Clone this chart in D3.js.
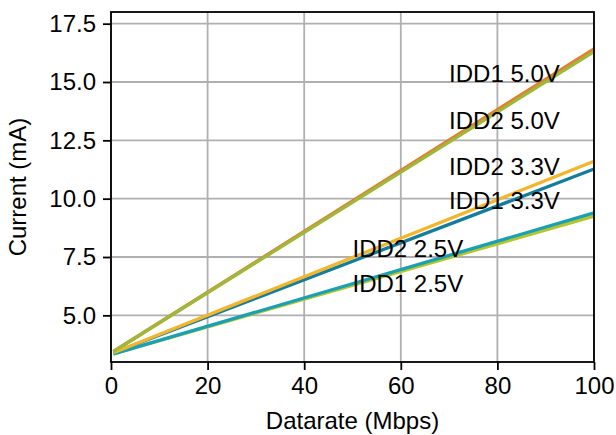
<!DOCTYPE html>
<html>
<head>
<meta charset="utf-8">
<script src="https://cdn.jsdelivr.net/npm/d3@7"></script>
<style>
    body { margin: 0; background: #fff; }
    text { font-family: "Liberation Sans", Arial, sans-serif; }
</style>
</head>
<body>
<div id="chart"></div>
<script>
// values
let datarate = [0.5, 100];
let idd1_25 = [3.35, 9.25];
let idd1_33 = [3.4, 11.27];
let idd1_50 = [3.45, 16.42];
let idd2_25 = [3.35, 9.39];
let idd2_33 = [3.4, 11.6];
let idd2_50 = [3.45, 16.3];

let seriesNames = ["IDD1 2.5V", "IDD1 3.3V", "IDD1 5.0V", "IDD2 2.5V", "IDD2 3.3V", "IDD2 5.0V"];
let seriesValues = [idd1_25, idd1_33, idd1_50, idd2_25, idd2_33, idd2_50];
let seriesColors = ["#b5c52b", "#157d9c", "#e87b2e", "#1aa0b5", "#f2b52c", "#9db83a"];

// where the text labels sit, in data units
let labelX = [50, 70, 70, 50, 70, 70];
let labelY = [6.0, 9.55, 15.0, 7.5, 11.0, 13.0];

let xTicks = [0, 20, 40, 60, 80, 100];
let yTicks = [5.0, 7.5, 10.0, 12.5, 15.0, 17.5];

let W = 616, H = 435;
let margin = {top: 12, right: 22, bottom: 73, left: 111},
    width = W - margin.left - margin.right,
    height = H - margin.top - margin.bottom;
let fontSize = 24;

let x = d3.scaleLinear().domain([0, 100]).range([0, width]);
let y = d3.scaleLinear().domain([3, 18]).range([height, 0]);

let svg = d3.select("#chart").append("svg")
    .attr("width", W)
    .attr("height", H);
svg.append("rect").attr("width", W).attr("height", H).attr("fill", "#fff");

let g = svg.append("g")
    .attr("transform", "translate(" + margin.left + "," + margin.top + ")");

// grid
g.append("g").selectAll("line.vx")
    .data(xTicks)
    .enter().append("line")
    .attr("x1", d => x(d)).attr("x2", d => x(d))
    .attr("y1", 0).attr("y2", height)
    .attr("stroke", "#b0b0b0").attr("stroke-width", 1.8);
g.append("g").selectAll("line.hy")
    .data(yTicks)
    .enter().append("line")
    .attr("x1", 0).attr("x2", width)
    .attr("y1", d => y(d)).attr("y2", d => y(d))
    .attr("stroke", "#b0b0b0").attr("stroke-width", 1.8);

// the lines
let line = d3.line()
    .x((d, i) => x(datarate[i]))
    .y(d => y(d));
seriesValues.forEach(function (vals, i) {
    g.append("path")
        .datum(vals)
        .attr("d", line)
        .attr("fill", "none")
        .attr("stroke", seriesColors[i])
        .attr("stroke-width", 3.3);
});

// labels
seriesNames.forEach(function (name, i) {
    g.append("text")
        .attr("x", x(labelX[i]))
        .attr("y", y(labelY[i]))
        .style("font-size", fontSize + "px")
        .attr("fill", "#000")
        .text(name);
});

// axes
let xAxis = g.append("g")
    .attr("transform", "translate(0," + height + ")")
    .call(d3.axisBottom(x).tickValues(xTicks).tickSize(8).tickPadding(7).tickFormat(d3.format("d")));
let yAxis = g.append("g")
    .call(d3.axisLeft(y).tickValues(yTicks).tickSize(8).tickPadding(7).tickFormat(d3.format(".1f")));
[xAxis, yAxis].forEach(function (a) {
    a.select(".domain").remove();
    a.selectAll(".tick line").attr("stroke", "#000").attr("stroke-width", 1.8);
    a.selectAll(".tick text").style("font-size", fontSize + "px").attr("fill", "#000");
});

// frame
g.append("rect")
    .attr("width", width).attr("height", height)
    .attr("fill", "none").attr("stroke", "#000").attr("stroke-width", 1.8);

// axis titles
g.append("text")
    .attr("x", width / 2)
    .attr("y", height + 67)
    .style("text-anchor", "middle")
    .style("font-size", fontSize + "px")
    .text("Datarate (Mbps)");
g.append("text")
    .attr("transform", "rotate(-90)")
    .attr("x", -height / 2)
    .attr("y", -85)
    .style("text-anchor", "middle")
    .style("font-size", fontSize + "px")
    .text("Current (mA)");
</script>
</body>
</html>
